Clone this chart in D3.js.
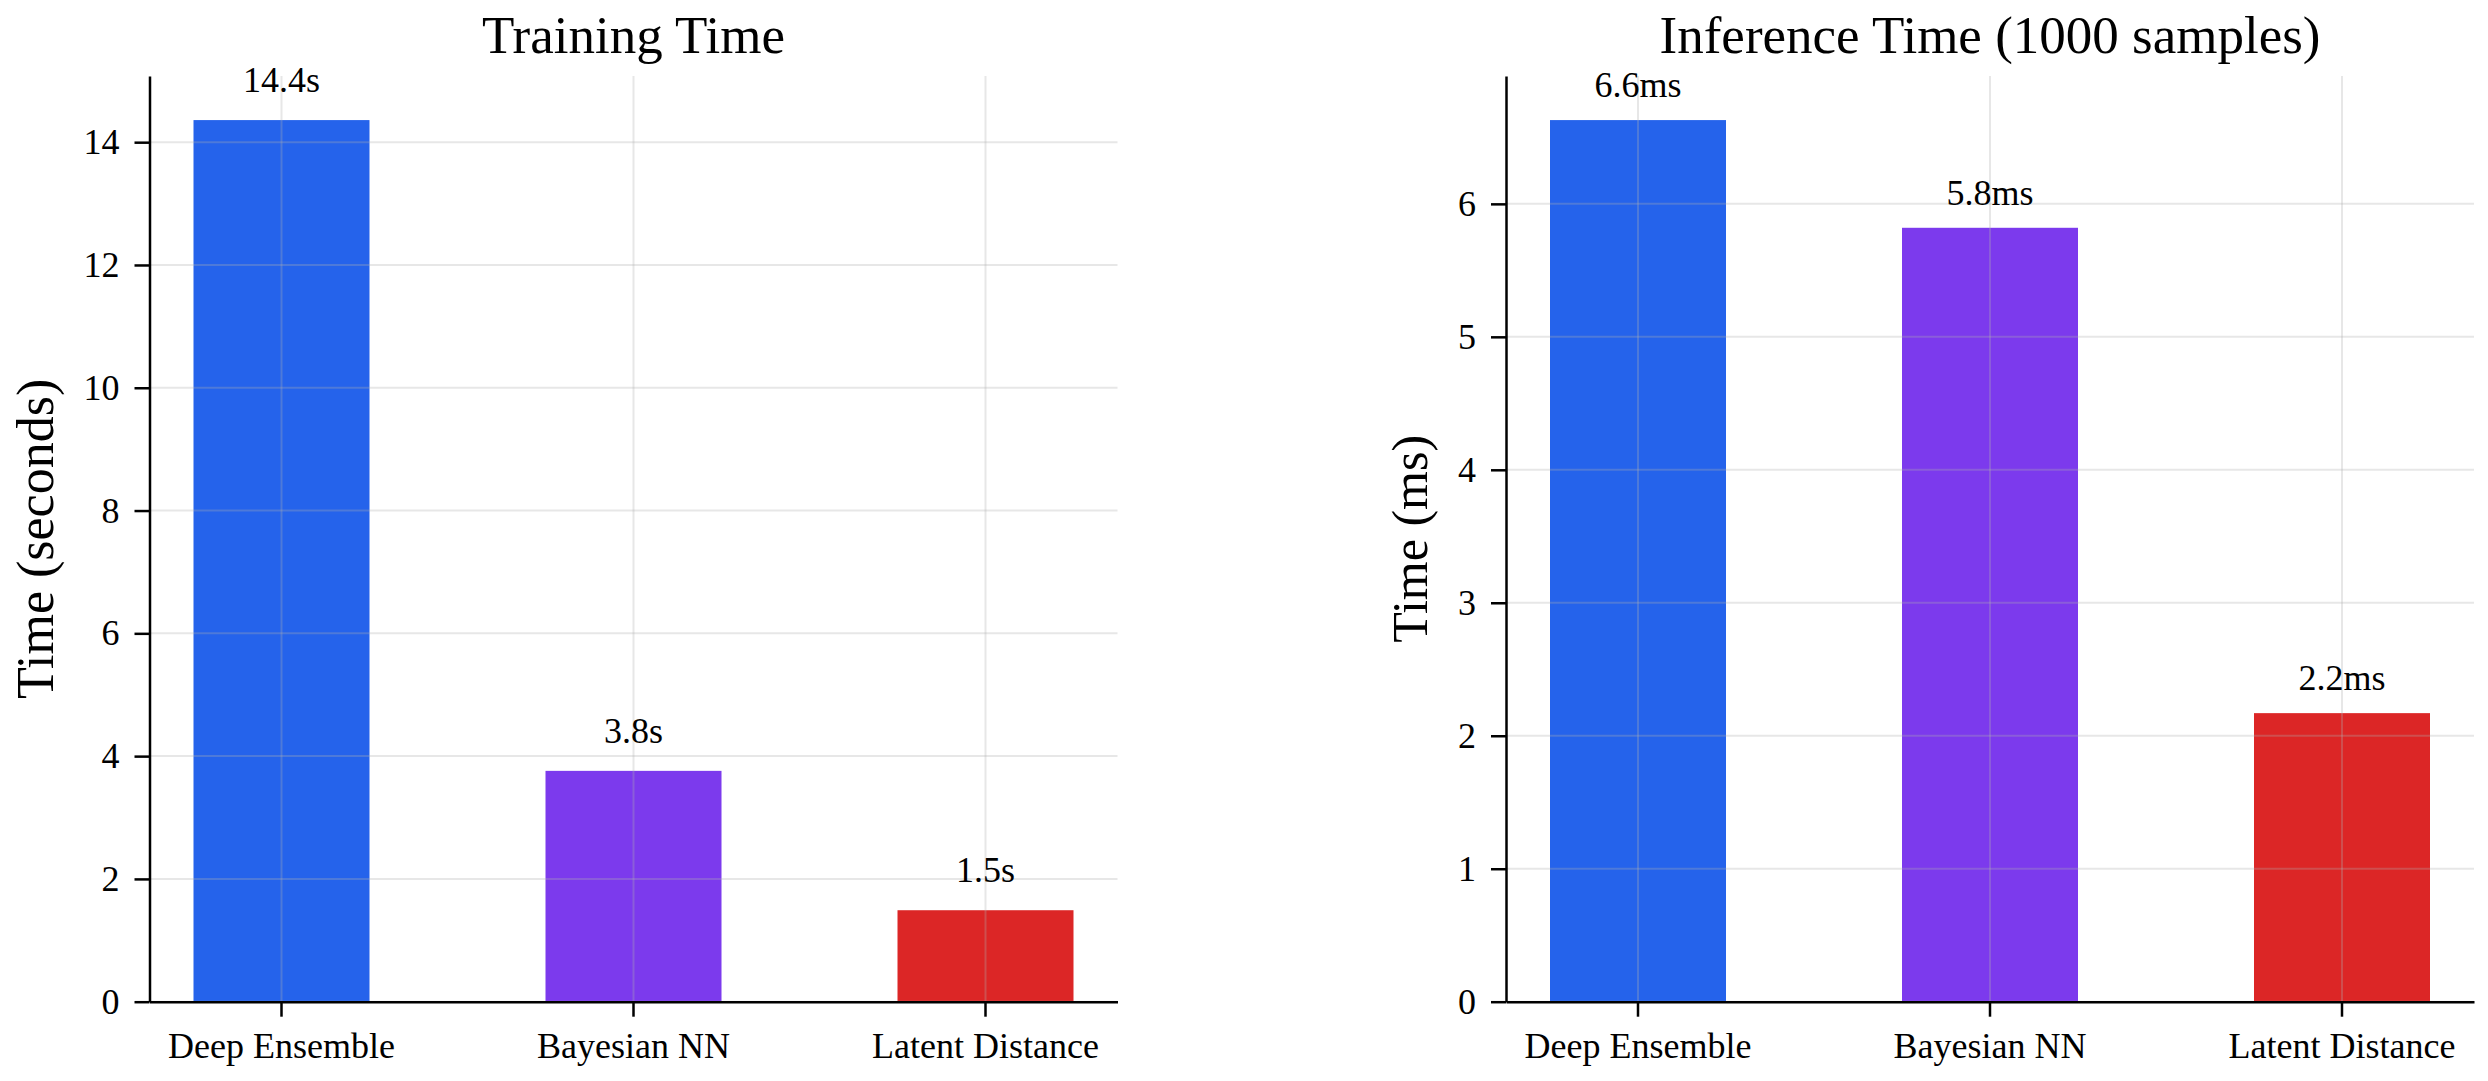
<!DOCTYPE html>
<html>
<head>
<meta charset="utf-8">
<script src="https://cdn.jsdelivr.net/npm/d3@7"></script>
<style>
  body { margin: 0; background: #fff; }
  svg { display: block; font-family: "Liberation Serif", "Times New Roman", serif; }
  .axis path, .axis line { stroke: #000; stroke-width: 2.5; }
  .axis text { font-size: 36px; fill: #000; font-family: "Liberation Serif", serif; }
  .grid line { stroke: #b0b0b0; stroke-opacity: 0.3; stroke-width: 2; }
</style>
</head>
<body>
<div id="chart"></div>
<script>
// data
const categories = ["Deep Ensemble", "Bayesian NN", "Latent Distance"]
const trainTimes = [14.36, 3.76, 1.49]
const inferTimes = [6.63, 5.82, 2.17]
const barColors = ["#2563eb", "#7c3aed", "#dc2626"]
const trainTicks = [0, 2, 4, 6, 8, 10, 12, 14]
const inferTicks = [0, 1, 2, 3, 4, 5, 6]
const titles = ["Training Time", "Inference Time (1000 samples)"]
const yLabels = ["Time (seconds)", "Time (ms)"]
const units = ["s", "ms"]

const W = 2488, H = 1081
const plotTop = 76, plotBottom = 1001.7
const panels = [
  { title: titles[0], ylabel: yLabels[0], values: trainTimes, ticks: trainTicks, unit: units[0], left: 149.5, right: 1117.5, gap: 28, labelSize: 52 },
  { title: titles[1], ylabel: yLabels[1], values: inferTimes, ticks: inferTicks, unit: units[1], left: 1506, right: 2474, gap: 23, labelSize: 50 }
]

const svg = d3.select("#chart").append("svg")
  .attr("width", W)
  .attr("height", H)

panels.forEach(p => {
  const g = svg.append("g")

  const x = d3.scaleBand()
    .domain(categories)
    .range([p.left, p.right])
    .paddingInner(0.5)
    .paddingOuter(0.125)

  const y = d3.scaleLinear()
    .domain([0, d3.max(p.values) * 1.05])
    .range([plotBottom, plotTop])

  //Bars
  g.selectAll(".bar")
    .data(p.values)
    .enter()
    .append("rect")
    .attr("class", "bar")
    .attr("x", (d, i) => x(categories[i]))
    .attr("y", d => y(d))
    .attr("width", x.bandwidth())
    .attr("height", d => y(0) - y(d))
    .attr("fill", (d, i) => barColors[i])

  //Grid on top of bars
  g.append("g")
    .attr("class", "grid")
    .selectAll("line")
    .data(p.ticks)
    .enter()
    .append("line")
    .attr("x1", p.left).attr("x2", p.right)
    .attr("y1", d => y(d)).attr("y2", d => y(d))

  g.append("g")
    .attr("class", "grid")
    .selectAll("line")
    .data(categories)
    .enter()
    .append("line")
    .attr("x1", d => x(d) + x.bandwidth() / 2).attr("x2", d => x(d) + x.bandwidth() / 2)
    .attr("y1", plotTop).attr("y2", plotBottom)

  //Axes
  const yAxisG = g.append("g")
    .attr("class", "axis")
    .attr("transform", "translate(" + p.left + ",0)")
    .call(d3.axisLeft(y).tickValues(p.ticks).tickSize(15).tickSizeOuter(0).tickPadding(15).tickFormat(d3.format("d")))

  g.append("g")
    .attr("class", "axis")
    .attr("transform", "translate(0," + plotBottom + ")")
    .call(d3.axisBottom(x).tickSize(15).tickSizeOuter(0).tickPadding(16))

  //Value labels
  g.selectAll(".val")
    .data(p.values)
    .enter()
    .append("text")
    .attr("class", "val")
    .attr("x", (d, i) => x(categories[i]) + x.bandwidth() / 2)
    .attr("y", d => y(d) - p.gap)
    .attr("text-anchor", "middle")
    .attr("font-size", 36)
    .text(d => d.toFixed(1) + p.unit)

  //Title
  g.append("text")
    .attr("x", (p.left + p.right) / 2)
    .attr("y", 53)
    .attr("text-anchor", "middle")
    .attr("font-size", 53)
    .text(p.title)

  //Y label
  const bb = yAxisG.node().getBBox()
  const lx = p.left + bb.x - 31
  g.append("text")
    .attr("transform", "translate(" + lx + "," + ((plotTop + plotBottom) / 2) + ") rotate(-90)")
    .attr("text-anchor", "middle")
    .attr("font-size", p.labelSize)
    .text(p.ylabel)
})
</script>
</body>
</html>
